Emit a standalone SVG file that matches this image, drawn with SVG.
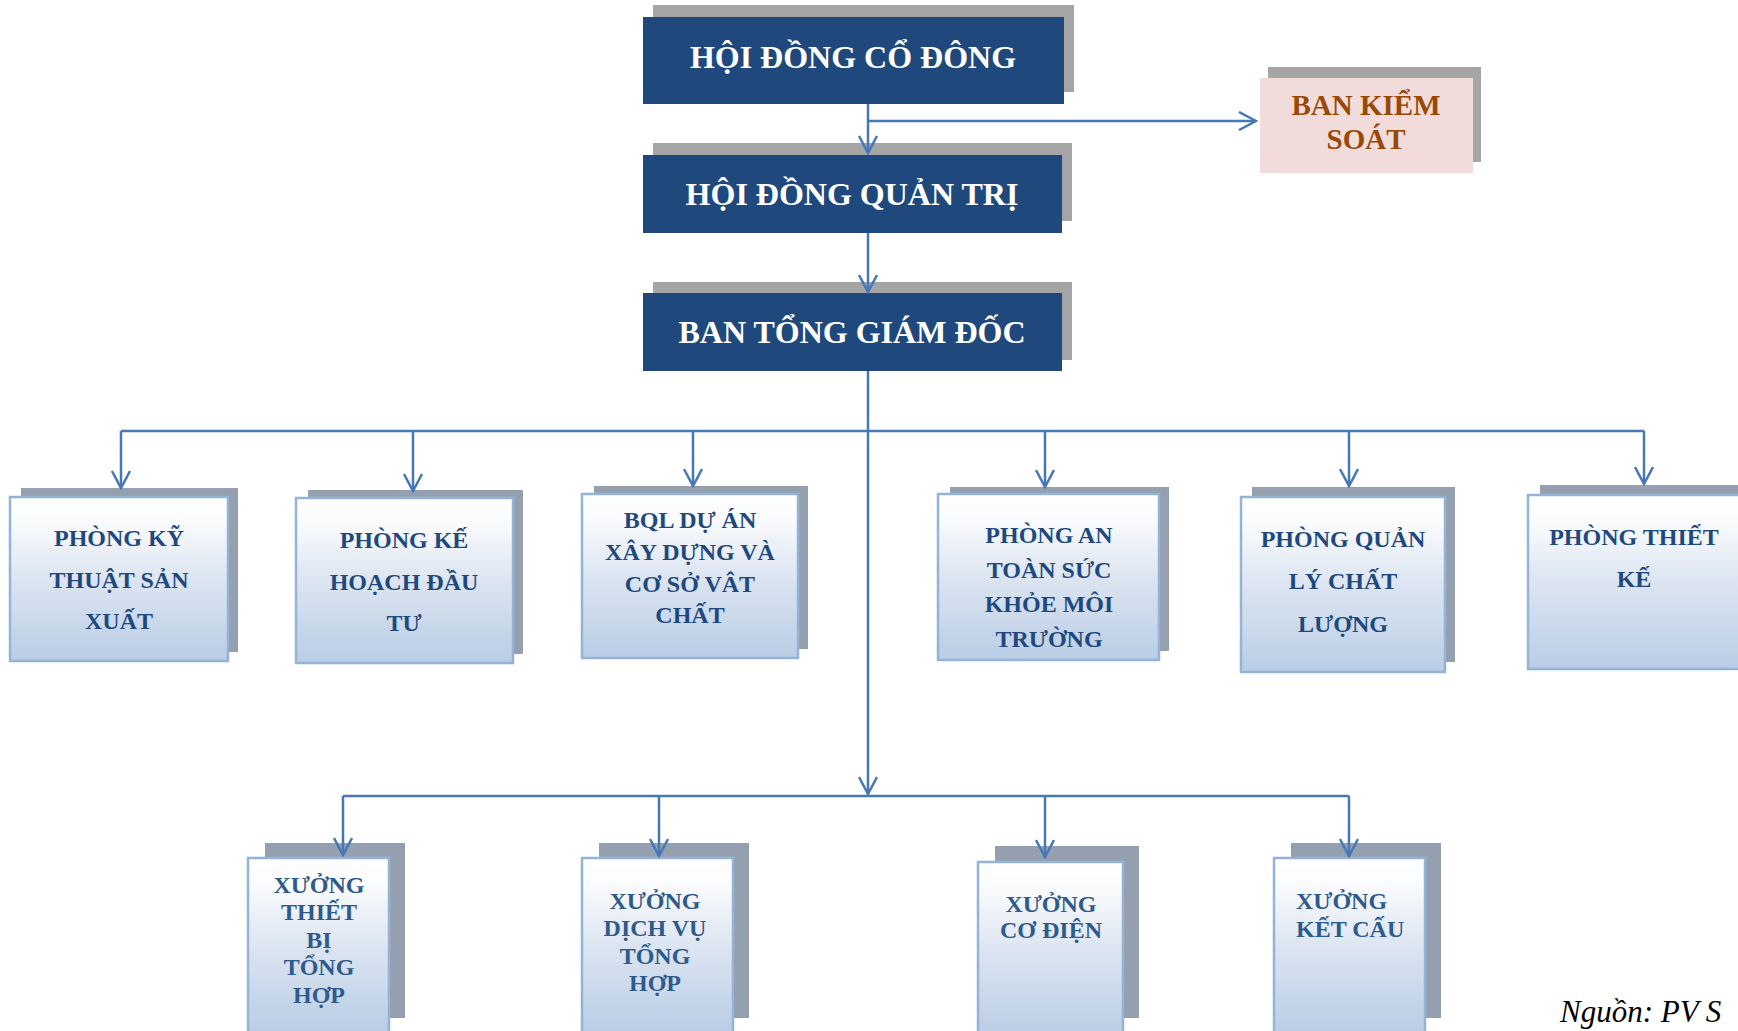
<svg xmlns="http://www.w3.org/2000/svg" width="1738" height="1031" viewBox="0 0 1738 1031">
  <style>
    .sh-top { fill: #A5A5A5; }
    .box-top { fill: #1F497D; }
    .t-top { font-family: "Liberation Serif", "Times New Roman", serif; font-weight: bold; font-size: 32px; fill: #FFFFFF; text-anchor: middle; }
    .sh-dep { fill: #94A0AF; }
    .box-dep { fill: url(#grad); stroke: #95B3D7; stroke-width: 2.5; }
    .t-dep { font-family: "Liberation Serif", "Times New Roman", serif; font-weight: bold; font-size: 24px; fill: #1F497D; text-anchor: middle; }
    .t-ws { font-family: "Liberation Serif", "Times New Roman", serif; font-weight: bold; font-size: 24px; fill: #2E5A8C; text-anchor: middle; }
    .t-bks { font-family: "Liberation Serif", "Times New Roman", serif; font-weight: bold; font-size: 29px; fill: #984807; text-anchor: middle; }
    .conn { fill: none; stroke: #4677B6; stroke-width: 2.5; }
    .src { font-family: "Liberation Serif", "Times New Roman", serif; font-style: italic; font-size: 31px; fill: #000000; }
  </style>
  <defs>
    <linearGradient id="grad" x1="0" y1="0" x2="0" y2="1">
      <stop offset="0" stop-color="#FFFFFF"/>
      <stop offset="0.15" stop-color="#FAFBFD"/>
      <stop offset="0.5" stop-color="#DCE5F1"/>
      <stop offset="1" stop-color="#B9CDE5"/>
    </linearGradient>
    <marker id="arr" viewBox="0 0 20 20" refX="18" refY="10" markerWidth="20" markerHeight="20" markerUnits="userSpaceOnUse" orient="auto">
      <path d="M1,1 L18,10 L1,19" fill="none" stroke="#4677B6" stroke-width="2.5"/>
    </marker>
  </defs>

  <g id="hoi-dong-co-dong">
    <rect class="sh-top" x="653" y="5" width="421" height="87"/>
    <rect class="box-top" x="643" y="17" width="421" height="87"/>
    <text class="t-top" x="853" y="68">HỘI ĐỒNG CỔ ĐÔNG</text>
  </g>
  <g id="hoi-dong-quan-tri">
    <rect class="sh-top" x="653" y="143" width="419" height="78"/>
    <rect class="box-top" x="643" y="155" width="419" height="78"/>
    <text class="t-top" x="852" y="205">HỘI ĐỒNG QUẢN TRỊ</text>
  </g>
  <g id="ban-tong-giam-doc">
    <rect class="sh-top" x="653" y="282" width="419" height="78"/>
    <rect class="box-top" x="643" y="293" width="419" height="78"/>
    <text class="t-top" x="852" y="343">BAN TỔNG GIÁM ĐỐC</text>
  </g>
  <g id="ban-kiem-soat">
    <rect class="sh-top" x="1268" y="67" width="213" height="95"/>
    <rect x="1260" y="78" width="213" height="95" fill="#F2DCDB"/>
    <text class="t-bks" x="1366" y="115">BAN KIỂM</text>
    <text class="t-bks" x="1366" y="149">SOÁT</text>
  </g>

  <g id="phong-ky-thuat">
    <rect class="sh-dep" x="21" y="488" width="217" height="164"/>
    <rect class="box-dep" x="10" y="497" width="218" height="164"/>
    <text class="t-dep" x="119" y="546">PHÒNG KỸ</text>
    <text class="t-dep" x="119" y="588">THUẬT SẢN</text>
    <text class="t-dep" x="119" y="629">XUẤT</text>
  </g>
  <g id="phong-ke-hoach">
    <rect class="sh-dep" x="308" y="490" width="215" height="164"/>
    <rect class="box-dep" x="296" y="498" width="217" height="165"/>
    <text class="t-dep" x="404" y="548">PHÒNG KẾ</text>
    <text class="t-dep" x="404" y="590">HOẠCH ĐẦU</text>
    <text class="t-dep" x="404" y="631">TƯ</text>
  </g>
  <g id="bql-du-an">
    <rect class="sh-dep" x="594" y="486" width="214" height="163"/>
    <rect class="box-dep" x="582" y="494" width="216" height="164"/>
    <text class="t-dep" x="690" y="528">BQL DỰ ÁN</text>
    <text class="t-dep" x="690" y="560">XÂY DỰNG VÀ</text>
    <text class="t-dep" x="690" y="592">CƠ SỞ VÂT</text>
    <text class="t-dep" x="690" y="623">CHẤT</text>
  </g>
  <g id="phong-an-toan">
    <rect class="sh-dep" x="950" y="487" width="219" height="164"/>
    <rect class="box-dep" x="938" y="494" width="221" height="166"/>
    <text class="t-dep" x="1049" y="543">PHÒNG AN</text>
    <text class="t-dep" x="1049" y="578">TOÀN SỨC</text>
    <text class="t-dep" x="1049" y="612">KHỎE MÔI</text>
    <text class="t-dep" x="1049" y="647">TRƯỜNG</text>
  </g>
  <g id="phong-quan-ly-chat-luong">
    <rect class="sh-dep" x="1252" y="487" width="203" height="175"/>
    <rect class="box-dep" x="1241" y="497" width="204" height="175"/>
    <text class="t-dep" x="1343" y="547">PHÒNG QUẢN</text>
    <text class="t-dep" x="1343" y="589">LÝ CHẤT</text>
    <text class="t-dep" x="1343" y="632">LƯỢNG</text>
  </g>
  <g id="phong-thiet-ke">
    <rect class="sh-dep" x="1540" y="485" width="215" height="175"/>
    <rect class="box-dep" x="1528" y="495" width="212" height="174"/>
    <text class="t-dep" x="1634" y="545">PHÒNG THIẾT</text>
    <text class="t-dep" x="1634" y="587">KẾ</text>
  </g>

  <g id="xuong-thiet-bi">
    <rect class="sh-dep" x="265" y="843" width="140" height="175"/>
    <rect class="box-dep" x="248" y="858" width="141" height="175"/>
    <text class="t-ws" x="319" y="893">XƯỞNG</text>
    <text class="t-ws" x="319" y="920">THIẾT</text>
    <text class="t-ws" x="319" y="948">BỊ</text>
    <text class="t-ws" x="319" y="975">TỔNG</text>
    <text class="t-ws" x="319" y="1003">HỢP</text>
  </g>
  <g id="xuong-dich-vu">
    <rect class="sh-dep" x="599" y="843" width="150" height="175"/>
    <rect class="box-dep" x="582" y="858" width="151" height="175"/>
    <text class="t-ws" x="655" y="909">XƯỞNG</text>
    <text class="t-ws" x="655" y="936">DỊCH VỤ</text>
    <text class="t-ws" x="655" y="964">TỔNG</text>
    <text class="t-ws" x="655" y="991">HỢP</text>
  </g>
  <g id="xuong-co-dien">
    <rect class="sh-dep" x="995" y="846" width="144" height="172"/>
    <rect class="box-dep" x="978" y="862" width="145" height="175"/>
    <text class="t-ws" x="1051" y="912">XƯỞNG</text>
    <text class="t-ws" x="1051" y="938">CƠ ĐIỆN</text>
  </g>
  <g id="xuong-ket-cau">
    <rect class="sh-dep" x="1291" y="843" width="150" height="175"/>
    <rect class="box-dep" x="1274" y="858" width="151" height="175"/>
    <text class="t-ws" x="1296" y="909" style="text-anchor:start">XƯỞNG</text>
    <text class="t-ws" x="1296" y="937" style="text-anchor:start">KẾT CẤU</text>
  </g>

  <g id="connectors">
    <path class="conn" d="M868,104 V153" marker-end="url(#arr)"/>
    <path class="conn" d="M868,121 H1256" marker-end="url(#arr)"/>
    <path class="conn" d="M868,233 V292" marker-end="url(#arr)"/>
    <path class="conn" d="M868,371 V794" marker-end="url(#arr)"/>
    <path class="conn" d="M121,431 H1644"/>
    <path class="conn" d="M121,431 V488" marker-end="url(#arr)"/>
    <path class="conn" d="M413,431 V491" marker-end="url(#arr)"/>
    <path class="conn" d="M693,431 V486" marker-end="url(#arr)"/>
    <path class="conn" d="M1045,431 V487" marker-end="url(#arr)"/>
    <path class="conn" d="M1349,431 V486" marker-end="url(#arr)"/>
    <path class="conn" d="M1644,431 V484" marker-end="url(#arr)"/>
    <path class="conn" d="M343,796 H1349"/>
    <path class="conn" d="M343,796 V855" marker-end="url(#arr)"/>
    <path class="conn" d="M659,796 V856" marker-end="url(#arr)"/>
    <path class="conn" d="M1045,796 V857" marker-end="url(#arr)"/>
    <path class="conn" d="M1349,796 V856" marker-end="url(#arr)"/>
  </g>

  <text class="src" x="1560" y="1022">Nguồn: PV S</text>
</svg>
